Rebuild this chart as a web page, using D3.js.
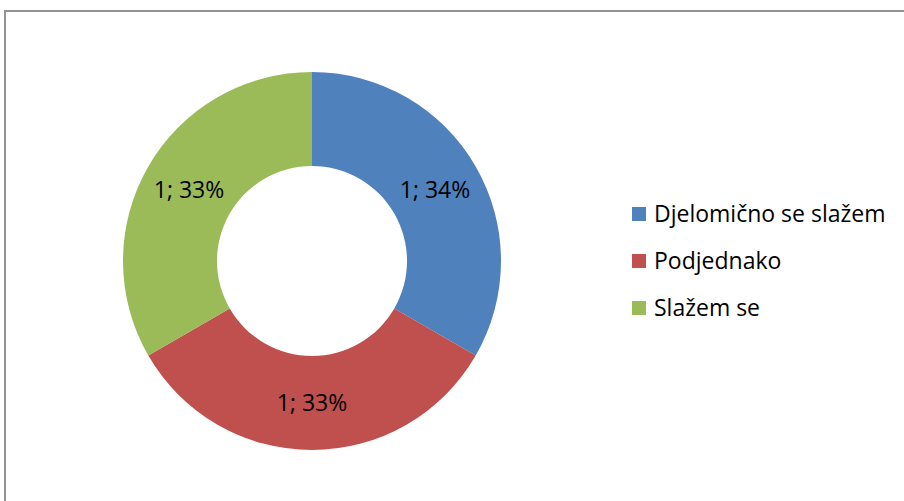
<!DOCTYPE html>
<html>
<head>
<meta charset="utf-8"/>
<script src="https://d3js.org/d3.v7.min.js"></script>
<style>
  body { margin: 0; background: #fff; }
  text { font-family: "Open Sans", "Noto Sans", sans-serif; }
</style>
</head>
<body>
<script>
// chart data
var categories = ["Djelomično se slažem", "Podjednako", "Slažem se"];
var values = [1, 1, 1];
var percentLabels = ["34%", "33%", "33%"];
var colors = ["#4f81bd", "#c0504d", "#9bbb59"];

var width = 904, height = 501;
var cx = 312, cy = 261;
var outerR = 189, innerR = 95;

var svg = d3.select("body").append("svg")
  .attr("width", width).attr("height", height);

// chart frame
svg.append("rect")
  .attr("x", 5).attr("y", 11)
  .attr("width", 920).attr("height", 520)
  .attr("fill", "none")
  .attr("stroke", "#939393")
  .attr("stroke-width", 2);

var pie = d3.pie().sort(null).value(function(d){ return d; });
var arcs = pie(values);
var arc = d3.arc().innerRadius(innerR).outerRadius(outerR);
var labelArc = d3.arc().innerRadius((innerR+outerR)/2).outerRadius((innerR+outerR)/2);

var g = svg.append("g").attr("transform", "translate(" + cx + "," + cy + ")");

g.selectAll("path")
  .data(arcs)
  .enter()
  .append("path")
  .attr("d", arc)
  .attr("fill", function(d,i){ return colors[i]; });

g.selectAll("text.lbl")
  .data(arcs)
  .enter()
  .append("text")
  .attr("class", "lbl")
  .attr("transform", function(d){ return "translate(" + labelArc.centroid(d) + ")"; })
  .attr("text-anchor", "middle")
  .attr("dy", "0.36em")
  .attr("font-size", "23px")
  .attr("fill", "#000")
  .text(function(d,i){ return d.data + "; " + percentLabels[i]; });

// legend
var legend = svg.append("g").attr("transform", "translate(632,214)");
var row = legend.selectAll("g")
  .data(categories)
  .enter()
  .append("g")
  .attr("transform", function(d,i){ return "translate(0," + (i*47) + ")"; });

row.append("rect")
  .attr("x", 0).attr("y", -7)
  .attr("width", 14).attr("height", 14)
  .attr("fill", function(d,i){ return colors[i]; });

row.append("text")
  .attr("x", 22)
  .attr("dy", "0.36em")
  .attr("font-size", "23px")
  .attr("fill", "#000")
  .text(function(d){ return d; });
</script>
</body>
</html>
